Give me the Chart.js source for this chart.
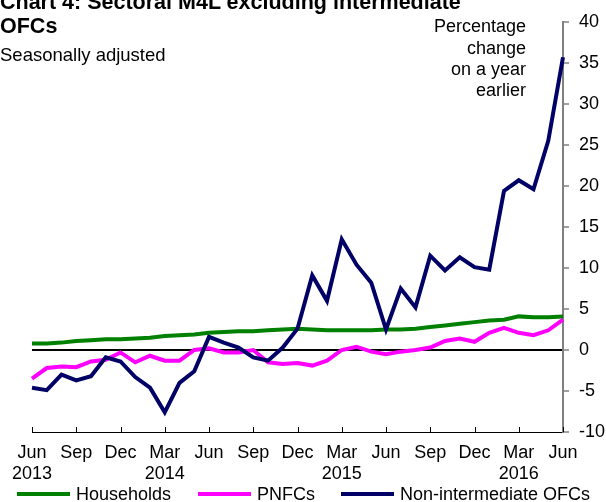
<!DOCTYPE html>
<html>
<head>
<meta charset="utf-8">
<script src="https://cdn.jsdelivr.net/npm/chart.js@4/dist/chart.umd.min.js"></script>
<style>
  body { margin: 0; background: #fff; font-family: "Liberation Sans", Arial, sans-serif; }
  #wrap { position: relative; width: 606px; height: 502px; overflow: hidden; }
  #chart { position: absolute; left: 0; top: 0; }
  .txt { position: absolute; color: #000; white-space: nowrap; }
  #title { left: 0; top: -10.5px; font-weight: bold; font-size: 21.5px; line-height: 24px; }
  #subtitle { left: 0; top: 44px; font-size: 18.5px; line-height: 21px; }
  #units { right: 80px; top: 16.4px; font-size: 18px; line-height: 21.3px; text-align: right; }
  .key { position: absolute; top: 483px; font-size: 18px; line-height: 22px; white-space: nowrap; }
  .key i { display: inline-block; width: 53px; height: 4px; margin-right: 6px; vertical-align: middle; position: relative; top: -1px; }
</style>
</head>
<body>
<div id="wrap">
  <canvas id="chart" width="606" height="502"></canvas>
  <div class="txt" id="title">Chart 4: Sectoral M4L excluding intermediate<br>OFCs</div>
  <div class="txt" id="subtitle">Seasonally adjusted</div>
  <div class="txt" id="units">Percentage<br>change<br>on a year<br>earlier</div>
</div>
<script>
const months = [
    'Jun 2013', 'Jul 2013', 'Aug 2013', 'Sep 2013', 'Oct 2013', 'Nov 2013', 'Dec 2013',
    'Jan 2014', 'Feb 2014', 'Mar 2014', 'Apr 2014', 'May 2014', 'Jun 2014', 'Jul 2014',
    'Aug 2014', 'Sep 2014', 'Oct 2014', 'Nov 2014', 'Dec 2014',
    'Jan 2015', 'Feb 2015', 'Mar 2015', 'Apr 2015', 'May 2015', 'Jun 2015', 'Jul 2015',
    'Aug 2015', 'Sep 2015', 'Oct 2015', 'Nov 2015', 'Dec 2015',
    'Jan 2016', 'Feb 2016', 'Mar 2016', 'Apr 2016', 'May 2016', 'Jun 2016'
];

const households = [
    0.8, 0.8, 0.9, 1.1, 1.2, 1.3, 1.3, 1.4, 1.5, 1.7, 1.8, 1.9, 2.1, 2.2, 2.3, 2.3, 2.4, 2.5, 2.6,
    2.5, 2.4, 2.4, 2.4, 2.4, 2.5, 2.5, 2.6, 2.8, 3.0, 3.2, 3.4, 3.6, 3.7, 4.1, 4.0, 4.0, 4.1
];

const pnfcs = [
    -3.5, -2.2, -2.0, -2.1, -1.4, -1.2, -0.3, -1.5, -0.7, -1.3, -1.3, 0.0, 0.2, -0.3, -0.3, 0.0, -1.5, -1.7, -1.6,
    -1.9, -1.3, 0.0, 0.4, -0.2, -0.5, -0.2, 0.0, 0.3, 1.1, 1.4, 1.0, 2.1, 2.7, 2.1, 1.8, 2.4, 3.7
];

const nonIntermediateOfcs = [
    -4.6, -4.9, -3.0, -3.7, -3.2, -0.9, -1.4, -3.3, -4.6, -7.6, -4.0, -2.6, 1.6, 0.9, 0.3, -0.9, -1.3, 0.3, 2.6,
    9.1, 6.0, 13.5, 10.4, 8.2, 2.5, 7.5, 5.2, 11.5, 9.7, 11.3, 10.1, 9.8, 19.4, 20.7, 19.6, 25.5, 35.7
];

const yMin = -10;
const yMax = 40;
const yStep = 5;

// where each legend entry starts, left to right
const legendLeft = [17, 198, 341];

// show a label every quarter, with the year under Jun 2013 and each March
function monthTick(value, index) {
    if (index % 3 !== 0) return '';
    const [mon, year] = months[index].split(' ');
    if (index === 0 || mon === 'Mar') return [mon, year];
    return mon;
}

// x axis tick marks point up into the plot
const innerTicks = {
    id: 'innerTicks',
    afterDatasetsDraw(chart) {
        const ctx = chart.ctx;
        const x = chart.scales.x;
        const bottom = chart.chartArea.bottom;
        ctx.save();
        ctx.strokeStyle = '#000';
        ctx.lineWidth = 1;
        ctx.beginPath();
        for (let i = 0; i < months.length; i += 3) {
            const px = Math.round(x.getPixelForValue(i)) + 0.5;
            ctx.moveTo(px, bottom);
            ctx.lineTo(px, bottom - 5);
        }
        ctx.stroke();
        ctx.restore();
    }
};

const tickFont = { family: '"Liberation Sans", Arial, sans-serif', size: 18 };

const chart = new Chart(document.getElementById('chart'), {
    type: 'line',
    data: {
        labels: months,
        datasets: [{
            label: 'Households',
            data: households,
            borderColor: '#008000',
            backgroundColor: '#008000',
            borderWidth: 4,
            pointRadius: 0,
            order: 2
        }, {
            label: 'PNFCs',
            data: pnfcs,
            borderColor: '#ff00ff',
            backgroundColor: '#ff00ff',
            borderWidth: 4,
            pointRadius: 0,
            order: 1
        }, {
            label: 'Non-intermediate OFCs',
            data: nonIntermediateOfcs,
            borderColor: '#000066',
            backgroundColor: '#000066',
            borderWidth: 4,
            pointRadius: 0,
            order: 0
        }]
    },
    options: {
        responsive: false,
        animation: false,
        layout: {
            padding: { left: 32, top: 22, right: 0, bottom: 0 }
        },
        plugins: {
            tooltip: { enabled: false },
            title: { display: false },
            legend: { display: false }
        },
        scales: {
            x: {
                type: 'category',
                offset: false,
                grid: { display: false, drawTicks: false },
                border: { display: true, color: '#000', width: 1 },
                ticks: {
                    autoSkip: false,
                    maxRotation: 0,
                    padding: 10,
                    color: '#000',
                    font: tickFont,
                    callback: monthTick
                },
                afterFit(scale) { scale.height = 70; }
            },
            y: {
                position: 'right',
                min: yMin,
                max: yMax,
                grid: {
                    drawOnChartArea: true,
                    color: ctx => ctx.tick && ctx.tick.value === 0 ? '#000' : 'rgba(0,0,0,0)',
                    lineWidth: 2,
                    tickLength: 6,
                    tickColor: '#808080',
                    tickWidth: 1.5
                },
                border: { display: true, color: '#808080', width: 2 },
                ticks: {
                    stepSize: yStep,
                    padding: 10,
                    color: '#000',
                    font: tickFont
                },
                afterFit(scale) { scale.width = 43; }
            }
        }
    },
    plugins: [innerTicks]
});

// legend built from the chart's datasets
const wrap = document.getElementById('wrap');
chart.data.datasets.forEach((ds, i) => {
    const item = document.createElement('div');
    item.className = 'key';
    item.style.left = legendLeft[i] + 'px';
    const swatch = document.createElement('i');
    swatch.style.background = ds.borderColor;
    item.appendChild(swatch);
    item.appendChild(document.createTextNode(ds.label));
    wrap.appendChild(item);
});
</script>
</body>
</html>
